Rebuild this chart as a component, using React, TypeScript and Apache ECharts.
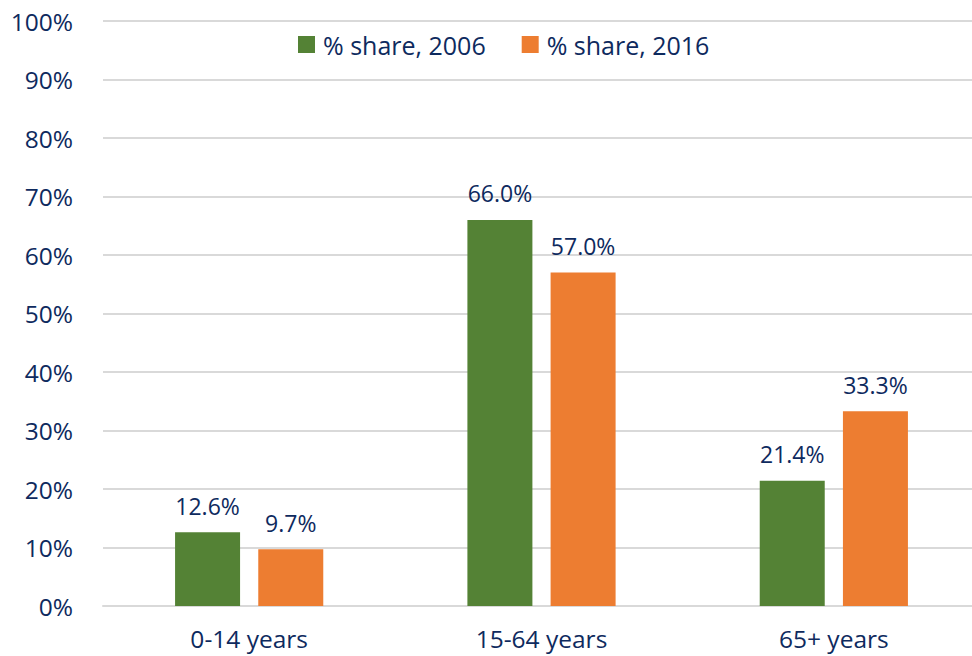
import React, { useEffect, useRef } from "react";
import * as echarts from "echarts";

const categories = ["0-14 years", "15-64 years", "65+ years"];
const share2006 = [12.6, 66.0, 21.4];
const share2016 = [9.7, 57.0, 33.3];
const seriesNames = ["% share, 2006", "% share, 2016"];

const TEXT = "#0E2A5E";
const FONT = "Open Sans";

export default function App() {
  const ref = useRef<HTMLDivElement>(null);
  useEffect(() => {
    if (!ref.current) return;
    const chart = echarts.init(ref.current, null, { renderer: "svg" });
    const label = {
      show: true,
      position: "top",
      distance: 15,
      color: TEXT,
      fontFamily: FONT,
      fontSize: 23,
      formatter: (p: any) => p.value.toFixed(1) + "%",
    };
    chart.setOption({
      animation: false,
      backgroundColor: "#ffffff",
      textStyle: { fontFamily: FONT, color: TEXT },
      legend: {
        top: 27,
        left: 293,
        itemWidth: 17,
        itemHeight: 17,
        itemGap: 36,
        icon: "rect",
        textStyle: { color: TEXT, fontFamily: FONT, fontSize: 25, padding: [0, 0, 0, 3] },
        data: seriesNames,
      },
      grid: { left: 103, right: 0, top: 21, bottom: 50, containLabel: false },
      xAxis: {
        type: "category",
        data: categories,
        axisLine: { lineStyle: { color: "#D9D9D9", width: 2 } },
        axisTick: { show: false },
        axisLabel: { color: TEXT, fontFamily: FONT, fontSize: 24.5, margin: 20 },
      },
      yAxis: {
        type: "value",
        min: 0,
        max: 100,
        interval: 10,
        axisLine: { show: false },
        axisTick: { show: false },
        splitLine: { lineStyle: { color: "#D9D9D9", width: 2 } },
        axisLabel: {
          color: TEXT,
          fontFamily: FONT,
          fontSize: 24.5,
          margin: 30,
          formatter: "{value}%",
        },
      },
      series: [
        {
          name: seriesNames[0],
          type: "bar",
          data: share2006,
          barWidth: 65,
          barGap: "28%",
          itemStyle: { color: "#548235" },
          label,
        },
        {
          name: seriesNames[1],
          type: "bar",
          data: share2016,
          barWidth: 65,
          barGap: "28%",
          itemStyle: { color: "#ED7D31" },
          label,
        },
      ],
    });
    return () => chart.dispose();
  }, []);
  return (
    <div style={{ position: "absolute", left: 0, top: 0, width: 972, height: 656, overflow: "hidden" }}>
      <div ref={ref} style={{ width: 980, height: 656 }} />
    </div>
  );
}
